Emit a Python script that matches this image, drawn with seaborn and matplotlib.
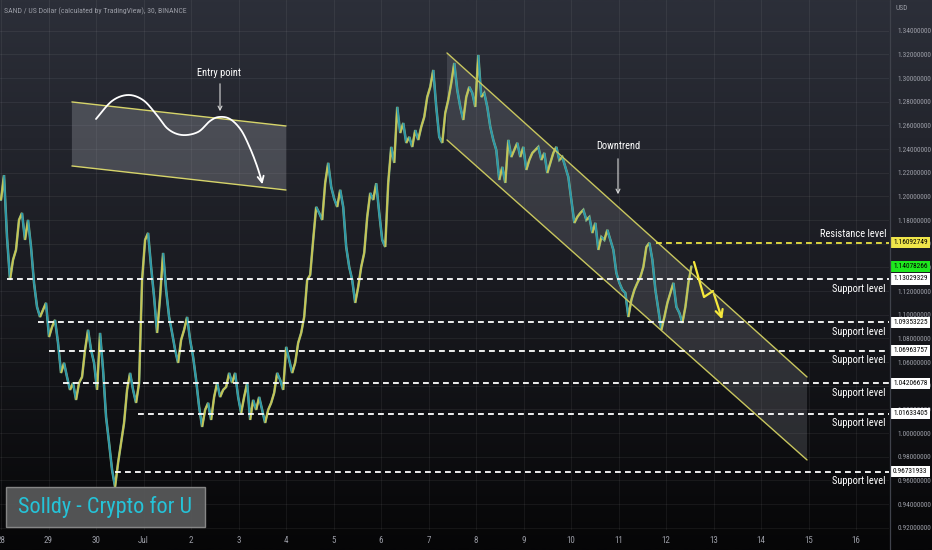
import numpy as np
import pandas as pd
import matplotlib
matplotlib.use("Agg")
import matplotlib.pyplot as plt
import matplotlib.dates as mdates
import matplotlib.transforms as mtransforms
from matplotlib.collections import LineCollection
from matplotlib.patches import Polygon, Rectangle
from matplotlib.lines import Line2D
from matplotlib.colors import LinearSegmentedColormap
from matplotlib import font_manager
import seaborn as sns

# ------------------------------------------------------------------ data
start_time = "2021-06-28 00:00"
bar_minutes = 91
close = [
    1.1970, 1.2180, 1.1657, 1.1294, 1.1463, 1.1548, 1.1801, 1.1860, 1.1632, 1.1801,
    1.1573, 1.1269, 1.1066, 1.0981, 1.1041, 1.1100, 1.0812, 1.0897, 1.0956, 1.0762,
    1.0508, 1.0593, 1.0474, 1.0365, 1.0424, 1.0280, 1.0424, 1.0474, 1.0703, 1.0872,
    1.0703, 1.0593, 1.0365, 1.0846, 1.0534, 1.0136, 0.9917, 0.9689, 0.9545, 0.9748,
    0.9917, 1.0086, 1.0365, 1.0508, 1.0365, 1.0255, 1.0424, 1.1294, 1.1632, 1.1691,
    1.1404, 1.1150, 1.0846, 1.1150, 1.1522, 1.1210, 1.0981, 1.0846, 1.0703, 1.0593,
    1.0787, 1.0872, 1.0981, 1.0787, 1.0643, 1.0449, 1.0221, 1.0052, 1.0196, 1.0255,
    1.0111, 1.0305, 1.0424, 1.0305, 1.0365, 1.0390, 1.0508, 1.0424, 1.0508, 1.0305,
    1.0170, 1.0305, 1.0424, 1.0111, 1.0280, 1.0196, 1.0305, 1.0196, 1.0086, 1.0196,
    1.0255, 1.0340, 1.0508, 1.0449, 1.0365, 1.0728, 1.0618, 1.0508, 1.0593, 1.0762,
    1.0846, 1.0981, 1.1294, 1.1336, 1.1632, 1.1911, 1.1860, 1.1801, 1.2114, 1.2283,
    1.2080, 1.1980, 1.1911, 1.2055, 1.1911, 1.1573, 1.1404, 1.1294, 1.1100, 1.1235,
    1.1404, 1.1522, 1.1826, 1.2029, 1.1970, 1.2110, 1.1860, 1.1632, 1.1573, 1.2114,
    1.2418, 1.2283, 1.2756, 1.2536, 1.2620, 1.2452, 1.2502, 1.2418, 1.2560, 1.2477,
    1.2587, 1.2671, 1.2840, 1.2925, 1.3068, 1.2756, 1.2502, 1.2452, 1.2705, 1.2815,
    1.2958, 1.3127, 1.2899, 1.2756, 1.2646, 1.2840, 1.2925, 1.2874, 1.2756, 1.3195,
    1.2840, 1.2874, 1.2756, 1.2587, 1.2477, 1.2392, 1.2139, 1.2249, 1.2114, 1.2477,
    1.2333, 1.2392, 1.2452, 1.2333, 1.2418, 1.2224, 1.2308, 1.2367, 1.2392, 1.2418,
    1.2308, 1.2367, 1.2198, 1.2283, 1.2367, 1.2418, 1.2308, 1.2333, 1.2249, 1.2164,
    1.1970, 1.1776, 1.1826, 1.1860, 1.1886, 1.1801, 1.1826, 1.1691, 1.1776, 1.1548,
    1.1657, 1.1632, 1.1717, 1.1632, 1.1548, 1.1353, 1.1269, 1.1210, 1.1184, 1.0981,
    1.1125, 1.1210, 1.1269, 1.1319, 1.1404, 1.1573, 1.1607, 1.1463, 1.1210, 1.1041,
    1.0872, 1.0981, 1.1100, 1.1184, 1.1269, 1.1066, 1.1015, 1.0931, 1.1066, 1.1269,
    1.1408,
]
tick_prices = [0.92, 0.94, 0.96, 0.98, 1.00, 1.02, 1.04, 1.06, 1.08, 1.10, 1.12,
               1.14, 1.16, 1.18, 1.20, 1.22, 1.24, 1.26, 1.28, 1.30, 1.32, 1.34]
day_labels = ["28", "29", "30", "Jul", "2", "3", "4", "5", "6", "7", "8", "9",
              "10", "11", "12", "13", "14", "15", "16"]
support_levels = [1.13029329, 1.09353225, 1.06963757, 1.04206678, 1.01633405, 0.96731933]
support_starts = ["2021-06-28 03:00", "2021-06-28 18:40", "2021-06-29 00:15",
                  "2021-06-29 07:20", "2021-06-30 21:15", "2021-06-30 09:35"]
resistance_level = 1.16092749
resistance_start = "2021-07-11 19:00"
last_price = 1.14078266
big_channel_times = ["2021-07-07 09:20", "2021-07-14 23:15"]
big_channel_upper = [1.3212, 1.0474]
big_channel_lower = [1.2477, 0.9773]
small_channel_times = ["2021-06-29 11:50", "2021-07-04 00:00"]
small_channel_upper = [1.2798, 1.2595]
small_channel_lower = [1.2257, 1.2054]

# ------------------------------------------------------------------ style
sns.set_theme(style="dark")
plt.rcParams["lines.scale_dashes"] = False


def pick_font():
    for name in ["Liberation Sans Narrow", "Roboto Condensed", "Open Sans Condensed"]:
        try:
            font_manager.findfont(font_manager.FontProperties(family=name),
                                  fallback_to_default=False)
            return dict(family=name)
        except Exception:
            pass
    return dict(family="DejaVu Sans", stretch="condensed")


NF = pick_font()
plt.rcParams["font.family"] = [NF["family"], "DejaVu Sans"]

YELLOW = "#c9c452"
TEAL = "#2a97ab"
GREY_TXT = "#9a9ca5"

W, H = 932, 550
fig = plt.figure(figsize=(W / 100, H / 100), dpi=100)
pxT = mtransforms.Affine2D().scale(1 / W, -1 / H).translate(0, 1) + fig.transFigure

# background gradient
bg = fig.add_axes([0, 0, 1, 1])
bg.set_zorder(-10)
grad = np.linspace(0, 1, 512)[:, None]
cmap = LinearSegmentedColormap.from_list("bg", ["#2c2f39", "#1a1b21", "#060607"])
bg.imshow(grad, aspect="auto", cmap=cmap, extent=[0, 1, 0, 1], origin="upper")
bg.axis("off")

ax = fig.add_axes([0, 20 / H, 889 / W, 530 / H])
ax.set_facecolor("none")

t0 = mdates.date2num(pd.Timestamp(start_time).to_pydatetime())
times = pd.date_range(start_time, periods=len(close), freq=f"{bar_minutes}min")
tnum = mdates.date2num(times.to_pydatetime())
cl = np.asarray(close)

# price line via seaborn (base), then direction-coloured segments on top
sns.lineplot(x=tnum, y=cl, ax=ax, color="#7fb088", lw=1.8, zorder=3,
             solid_joinstyle="miter")
segs = np.stack([np.column_stack([tnum[:-1], cl[:-1]]),
                 np.column_stack([tnum[1:], cl[1:]])], axis=1)
cols = [YELLOW if b >= a else TEAL for a, b in zip(cl[:-1], cl[1:])]
ax.add_collection(LineCollection(segs, colors=cols, linewidths=1.3, zorder=4))

# axes limits (47.5 px per day, 0.02 per 23.66 px)
ax.set_xlim(t0 - 1 / 47.5, t0 + 888 / 47.5)
ax.set_ylim(1.36595 - 530 * 0.000845, 1.36595)

# grid & ticks
day_dates = pd.date_range("2021-06-28", periods=len(day_labels), freq="D")
ax.set_xticks(mdates.date2num(day_dates.to_pydatetime()))
ax.set_xticklabels(day_labels)
ax.set_yticks(tick_prices)
ax.set_yticklabels([f"{v:.8f}" for v in tick_prices])
ax.yaxis.tick_right()
ax.tick_params(axis="y", length=0, pad=6, labelsize=5.3, labelcolor=GREY_TXT)
ax.tick_params(axis="x", length=0, pad=4.5, labelsize=6.5, labelcolor=GREY_TXT)
ax.grid(True, color="white", alpha=0.06, lw=0.8)
for s in ax.spines.values():
    s.set_visible(False)
fig.add_artist(Line2D([889.5, 889.5], [0, H], transform=pxT, color="#3f424b", lw=0.9))

# channels
bx = mdates.date2num(pd.to_datetime(big_channel_times).to_pydatetime())
ax.add_patch(Polygon([(bx[0], big_channel_upper[0]), (bx[1], big_channel_upper[1]),
                      (bx[1], big_channel_lower[1]), (bx[0], big_channel_lower[0])],
                     closed=True, fc="#9598a1", alpha=0.22, ec="none", zorder=2))
ax.plot(bx, big_channel_upper, color="#c8c65e", lw=1.0, zorder=5)
ax.plot(bx, big_channel_lower, color="#c8c65e", lw=1.0, zorder=5)

sx = mdates.date2num(pd.to_datetime(small_channel_times).to_pydatetime())
ax.add_patch(Polygon([(sx[0], small_channel_upper[0]), (sx[1], small_channel_upper[1]),
                      (sx[1], small_channel_lower[1]), (sx[0], small_channel_lower[0])],
                     closed=True, fc="#a5a8b0", alpha=0.3, ec="none", zorder=2))
ax.plot(sx, small_channel_upper, color="#d6d46a", lw=1.0, zorder=5)
ax.plot(sx, small_channel_lower, color="#d6d46a", lw=1.0, zorder=5)

# horizontal levels
xmax = ax.get_xlim()[1]
lab_T = mtransforms.blended_transform_factory(ax.transAxes, ax.transData)
for lvl, st in zip(support_levels, support_starts):
    xs = mdates.date2num(pd.Timestamp(st).to_pydatetime())
    ax.plot([xs, xmax], [lvl, lvl], color="white", lw=1.3, dashes=(4.2, 3.0), zorder=6)
    ax.text(886 / 889, lvl - 0.0082, "Support level", transform=lab_T, ha="right",
            va="center", color="white", fontsize=7.5, zorder=7)
    ax.text(1 + 4 / 889, lvl, f"{lvl:.8f}", transform=lab_T, ha="left", va="center",
            color="black", fontsize=5.3, clip_on=False, zorder=8,
            bbox=dict(boxstyle="square,pad=0.3", fc="white", ec="none"))
xr = mdates.date2num(pd.Timestamp(resistance_start).to_pydatetime())
ax.plot([xr, xmax], [resistance_level] * 2, color="#e9e444", lw=1.3, dashes=(4.2, 3.0), zorder=6)
ax.text(886 / 889, resistance_level + 0.0073, "Resistance level", transform=lab_T,
        ha="right", va="center", color="white", fontsize=7.5, zorder=7)
ax.text(1 + 4 / 889, resistance_level, f"{resistance_level:.8f}", transform=lab_T,
        ha="left", va="center", color="black", fontsize=5.3, clip_on=False, zorder=8,
        bbox=dict(boxstyle="square,pad=0.3", fc="#f0e64a", ec="none"))
ax.text(1 + 4 / 889, last_price, f"{last_price:.8f}", transform=lab_T,
        ha="left", va="center", color="black", fontsize=5.3, clip_on=False, zorder=8,
        bbox=dict(boxstyle="square,pad=0.3", fc="#1ee81e", ec="none"))

# ---------------------------------------------------------- annotations (pixel space)
fig.text(4, 11, "SAND / US Dollar (calculated by TradingView), 30, BINANCE",
         transform=pxT, ha="left", va="center", color=GREY_TXT, fontsize=5.6)
fig.text(895, 9, "USD", transform=pxT, ha="left", va="center", color=GREY_TXT, fontsize=5.3)


def catmull(pts, n=20):
    p = np.asarray(pts, float)
    p = np.vstack([p[0], p, p[-1]])
    out = []
    for i in range(1, len(p) - 2):
        p0, p1, p2, p3 = p[i - 1], p[i], p[i + 1], p[i + 2]
        for t in np.linspace(0, 1, n, endpoint=False):
            out.append(0.5 * ((2 * p1) + (-p0 + p2) * t + (2 * p0 - 5 * p1 + 4 * p2 - p3) * t ** 2
                              + (-p0 + 3 * p1 - 3 * p2 + p3) * t ** 3))
    out.append(p[-2])
    return np.array(out)


curve = catmull([(96, 119), (112, 101), (128, 95), (143, 100), (156, 114), (168, 129),
                 (182, 135), (198, 132), (210, 121), (219, 117), (230, 119), (241, 130),
                 (250, 148), (257, 166), (262, 182)])
ax.plot(curve[:, 0], curve[:, 1], color="white", lw=1.3, transform=pxT, zorder=9)
ax.annotate("", xy=(263, 187), xytext=(261, 178), xycoords=pxT, textcoords=pxT,
            arrowprops=dict(arrowstyle="->", color="white", lw=1.3, mutation_scale=11))
ax.text(219, 73, "Entry point", transform=pxT, ha="center", va="center", color="white",
        fontsize=7.5, zorder=9)
ax.annotate("", xy=(220, 114), xytext=(220, 81), xycoords=pxT, textcoords=pxT,
            arrowprops=dict(arrowstyle="->", color="#d8d8d8", lw=0.8, mutation_scale=7))
ax.text(618, 146, "Downtrend", transform=pxT, ha="center", va="center", color="white",
        fontsize=7.5, zorder=9)
ax.annotate("", xy=(618, 197), xytext=(618, 156), xycoords=pxT, textcoords=pxT,
            arrowprops=dict(arrowstyle="->", color="#d8d8d8", lw=0.8, mutation_scale=7))

ax.plot([694, 704, 713], [262, 297, 291], color="#f5e83c", lw=1.6, transform=pxT, zorder=9)
ax.annotate("", xy=(723, 322), xytext=(713, 291), xycoords=pxT, textcoords=pxT,
            arrowprops=dict(arrowstyle="->", color="#f5e83c", lw=1.6, mutation_scale=13))

# watermark
fig.add_artist(Rectangle((6, 527), 199, -40, transform=pxT, fc="#575859", ec="#8c8c8c",
                         lw=1.0, alpha=0.95, zorder=20))
fig.text(105, 507, "Solldy - Crypto for U", transform=pxT, ha="center", va="center",
         color="#25c3d8", fontsize=16, zorder=21)

fig.savefig("out.png", dpi=100)
